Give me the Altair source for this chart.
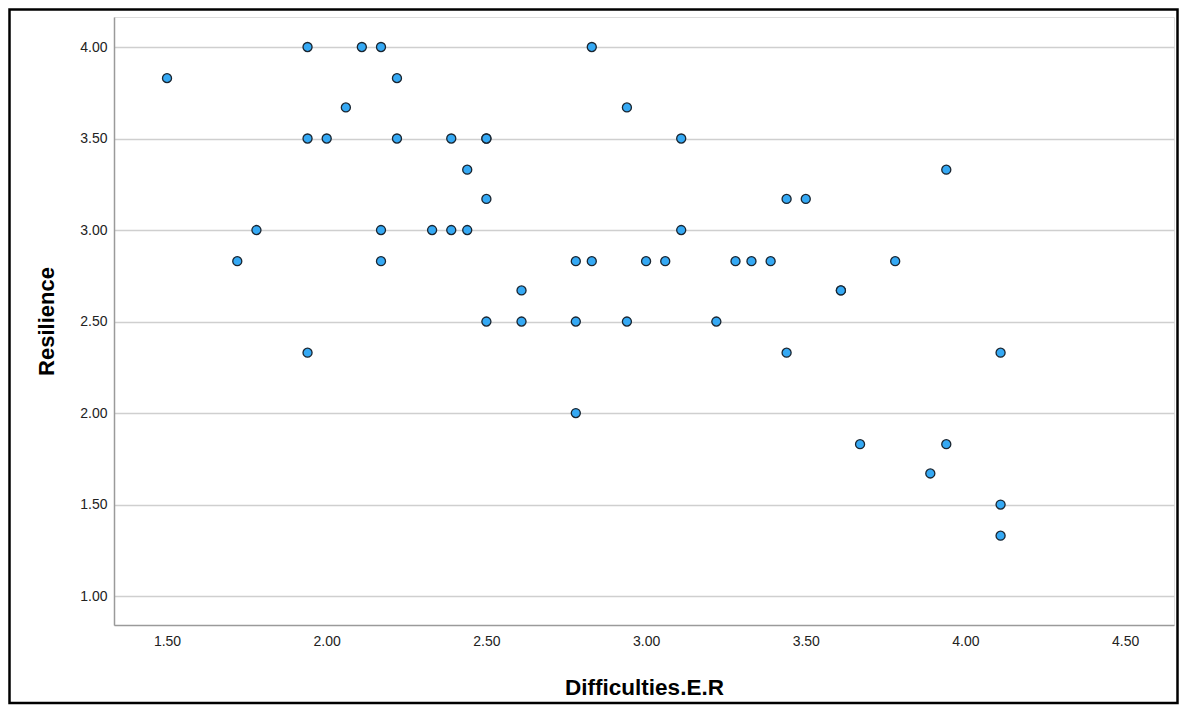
import altair as alt
import pandas as pd

difficulties = [1.50, 1.72, 1.78, 1.94, 1.94, 1.94, 2.00, 2.06, 2.11, 2.17,
                2.22, 2.22, 2.17, 2.17, 2.33, 2.39, 2.39, 2.44, 2.44, 2.50,
                2.50, 2.50, 2.50, 2.61, 2.61, 2.78, 2.78, 2.78, 2.83, 2.83,
                2.94, 2.94, 3.00, 3.06, 3.11, 3.11, 3.22, 3.28, 3.33, 3.39,
                3.44, 3.44, 3.50, 3.61, 3.61, 3.67, 3.78, 3.89, 3.94, 3.94,
                4.11, 4.11, 4.11]
resilience = [3.83, 2.83, 3.00, 4.00, 3.50, 2.33, 3.50, 3.67, 4.00, 4.00,
              3.83, 3.50, 3.00, 2.83, 3.00, 3.50, 3.00, 3.33, 3.00, 3.50,
              3.50, 3.17, 2.50, 2.67, 2.50, 2.83, 2.50, 2.00, 4.00, 2.83,
              3.67, 2.50, 2.83, 2.83, 3.50, 3.00, 2.50, 2.83, 2.83, 2.83,
              3.17, 2.33, 3.17, 2.67, 2.67, 1.83, 2.83, 1.67, 3.33, 1.83,
              2.33, 1.50, 1.33]

x_ticks = [1.5, 2.0, 2.5, 3.0, 3.5, 4.0, 4.5]
y_ticks = [1.0, 1.5, 2.0, 2.5, 3.0, 3.5, 4.0]

df = pd.DataFrame({"der": difficulties, "res": resilience})

W, H = 1060, 608
PAD = {"left": 106, "top": 9, "right": 5, "bottom": 80}

points = alt.Chart(df).mark_point(
    shape="circle", filled=True, size=82, fill="#35a9f4",
    stroke="#1a2530", strokeWidth=1.3, opacity=1
).encode(
    x=alt.X("der:Q",
            scale=alt.Scale(domain=[1.334, 4.653], nice=False, zero=False),
            axis=alt.Axis(values=x_ticks, format=".2f", grid=False, ticks=False,
                          labelPadding=9, labelFontSize=14, labelColor="#222222",
                          labelFont="Liberation Sans",
                          title="Difficulties.E.R", titleFontSize=22.5,
                          titleFont="Liberation Sans", titleFontWeight="bold",
                          titleColor="#000000", titleY=69, titleBaseline="alphabetic",
                          domainColor="#9a9a9a", domainWidth=1.5)),
    y=alt.Y("res:Q",
            scale=alt.Scale(domain=[0.842, 4.164], nice=False, zero=False),
            axis=alt.Axis(values=y_ticks, format=".2f", grid=True, ticks=False,
                          gridColor="#cfcfcf", gridWidth=1.5,
                          labelPadding=7, labelFontSize=14, labelColor="#222222",
                          labelFont="Liberation Sans",
                          title="Resilience", titleFontSize=22,
                          titleFont="Liberation Sans", titleFontWeight="bold",
                          titleColor="#000000", titleX=-61, titleBaseline="alphabetic",
                          domainColor="#9a9a9a", domainWidth=1.5)),
)

frame = alt.Chart(pd.DataFrame({"k": [0]})).mark_rect(
    fill="transparent", stroke="#000000", strokeWidth=2.5
).encode(
    x=alt.value(-104.5), x2=alt.value(W + 3.5),
    y=alt.value(-7.5), y2=alt.value(H + PAD["bottom"] - 2),
)

chart = alt.layer(points, frame).properties(
    width=W, height=H,
    autosize=alt.AutoSizeParams(type="none"),
    padding=PAD,
).configure_view(stroke=None).configure(background="white")

chart.save("out.html", embed_options={"renderer": "svg", "actions": False})
